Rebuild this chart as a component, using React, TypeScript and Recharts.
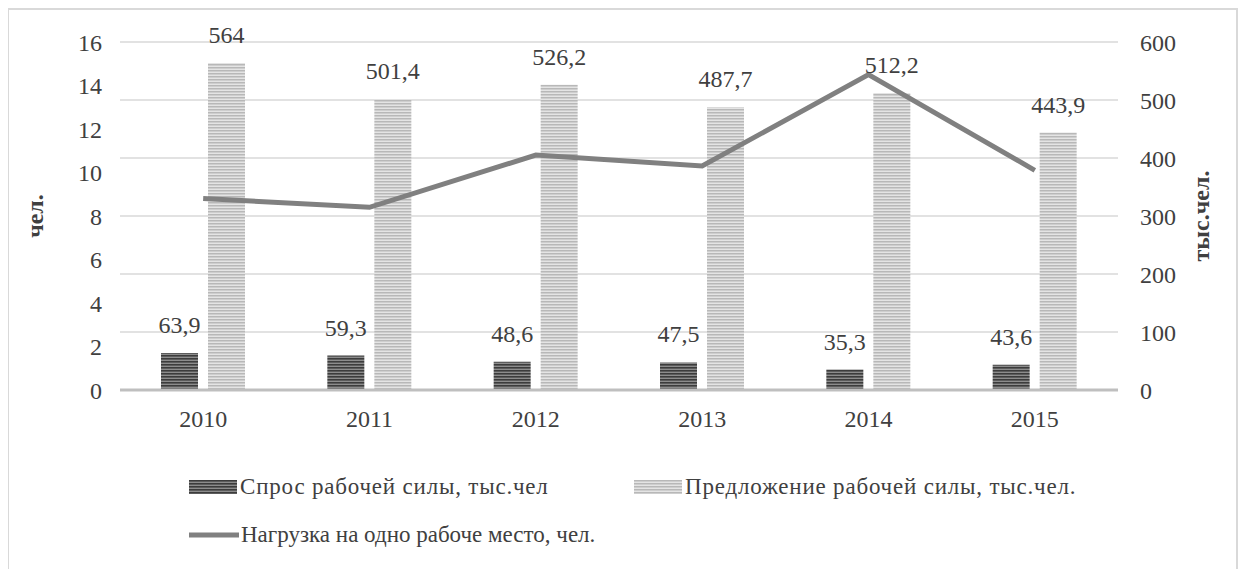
import {
  ComposedChart,
  Bar,
  Line,
  XAxis,
  YAxis,
  CartesianGrid,
  LabelList,
} from "recharts";

const years = ["2010", "2011", "2012", "2013", "2014", "2015"];
const demand = [63.9, 59.3, 48.6, 47.5, 35.3, 43.6];
const supply = [564, 501.4, 526.2, 487.7, 512.2, 443.9];
const load = [8.8, 8.4, 10.8, 10.3, 14.5, 10.1];

const leftTicks = [0, 2, 4, 6, 8, 10, 12, 14, 16];
const rightTicks = [0, 100, 200, 300, 400, 500, 600];

const demandName = "Спрос рабочей силы, тыс.чел";
const supplyName = "Предложение рабочей силы, тыс.чел.";
const loadName = "Нагрузка на одно  рабоче место, чел.";

const data = years.map((y, i) => ({
  year: y,
  demand: demand[i],
  supply: supply[i],
  load: load[i],
}));

const FONT = "Liberation Serif, DejaVu Serif, Tinos, serif";
const TEXT = "#404040";
const FS = 24;

const fmt = (v: any) => String(v).replace(".", ",");

function Patterns() {
  return (
    <defs>
      <pattern id="darkStripe" width="6" height="3" patternUnits="userSpaceOnUse">
        <rect width="6" height="3" fill="#8c8c8c" />
        <rect width="6" height="1.6" fill="#3c3c3c" />
      </pattern>
      <pattern id="lightStripe" width="6" height="3" patternUnits="userSpaceOnUse">
        <rect width="6" height="3" fill="#e4e4e4" />
        <rect width="6" height="1.5" fill="#b8b8b8" />
      </pattern>
    </defs>
  );
}

function Swatch({ id }: { id: string }) {
  return (
    <svg width={48} height={14} style={{ marginRight: 3 }}>
      <Patterns />
      <rect width={48} height={14} fill={`url(#${id})`} />
    </svg>
  );
}

export default function App() {
  return (
    <div
      style={{
        position: "relative",
        width: 1231,
        height: 575,
        border: "2px solid #d9d9d9",
        boxSizing: "border-box",
        marginLeft: -1,
        background: "#fff",
        fontFamily: FONT,
      }}
    >
      <ComposedChart
        width={1229}
        height={470}
        data={data}
        margin={{ top: 32, right: 0, left: 0, bottom: 0 }}
        barGap={10}
        style={{ fontFamily: FONT }}
      >
        <Patterns />
        <CartesianGrid yAxisId="right" vertical={false} stroke="#d9d9d9" strokeWidth={1.5} />
        <XAxis
          dataKey="year"
          axisLine={{ stroke: "#bfbfbf", strokeWidth: 3 }}
          tickLine={false}
          tick={{ fill: TEXT, fontSize: FS, fontFamily: FONT }}
          tickMargin={14}
          height={90}
        />
        <YAxis
          yAxisId="left"
          orientation="left"
          domain={[0, 16]}
          ticks={leftTicks}
          interval={0}
          axisLine={false}
          tickLine={false}
          tick={{ fill: TEXT, fontSize: FS, fontFamily: FONT }}
          tickMargin={12}
          width={111}
          label={{
            value: "чел.",
            angle: -90,
            position: "insideLeft",
            offset: 25,
            style: { fill: TEXT, fontSize: FS, fontWeight: "bold", fontFamily: FONT, textAnchor: "middle" },
          }}
        />
        <YAxis
          yAxisId="right"
          orientation="right"
          domain={[0, 600]}
          ticks={rightTicks}
          interval={0}
          axisLine={false}
          tickLine={false}
          tick={{ fill: TEXT, fontSize: FS, fontFamily: FONT }}
          tickMargin={16}
          width={120}
          label={{
            value: "тыс.чел.",
            angle: -90,
            position: "insideRight",
            offset: 38,
            style: { fill: TEXT, fontSize: FS, fontWeight: "bold", fontFamily: FONT, textAnchor: "middle" },
          }}
        />
        <Bar
          yAxisId="right"
          dataKey="demand"
          name={demandName}
          fill="url(#darkStripe)"
          barSize={37}
          isAnimationActive={false}
        >
          <LabelList
            dataKey="demand"
            position="top"
            offset={20}
            formatter={fmt}
            style={{ fill: TEXT, fontSize: FS, fontFamily: FONT }}
          />
        </Bar>
        <Bar
          yAxisId="right"
          dataKey="supply"
          name={supplyName}
          fill="url(#lightStripe)"
          barSize={37}
          isAnimationActive={false}
        >
          <LabelList
            dataKey="supply"
            position="top"
            offset={20}
            formatter={fmt}
            style={{ fill: TEXT, fontSize: FS, fontFamily: FONT }}
          />
        </Bar>
        <Line
          yAxisId="left"
          dataKey="load"
          name={loadName}
          stroke="#808080"
          strokeWidth={5}
          dot={false}
          isAnimationActive={false}
        />
      </ComposedChart>
      <div
        style={{
          position: "absolute",
          left: 180,
          top: 463,
          color: TEXT,
          fontSize: 23,
          lineHeight: "28px",
        }}
      >
        <div style={{ display: "flex", alignItems: "center", letterSpacing: 0.8 }}>
          <span style={{ display: "flex", alignItems: "center", width: 445 }}>
            <Swatch id="darkStripe" />
            {demandName}
          </span>
          <span style={{ display: "flex", alignItems: "center" }}>
            <Swatch id="lightStripe" />
            {supplyName}
          </span>
        </div>
        <div style={{ display: "flex", alignItems: "center", marginTop: 20 }}>
          <svg width={50} height={14} style={{ marginRight: 2 }}>
            <line x1={0} y1={7} x2={50} y2={7} stroke="#808080" strokeWidth={5} />
          </svg>
          {loadName}
        </div>
      </div>
    </div>
  );
}
